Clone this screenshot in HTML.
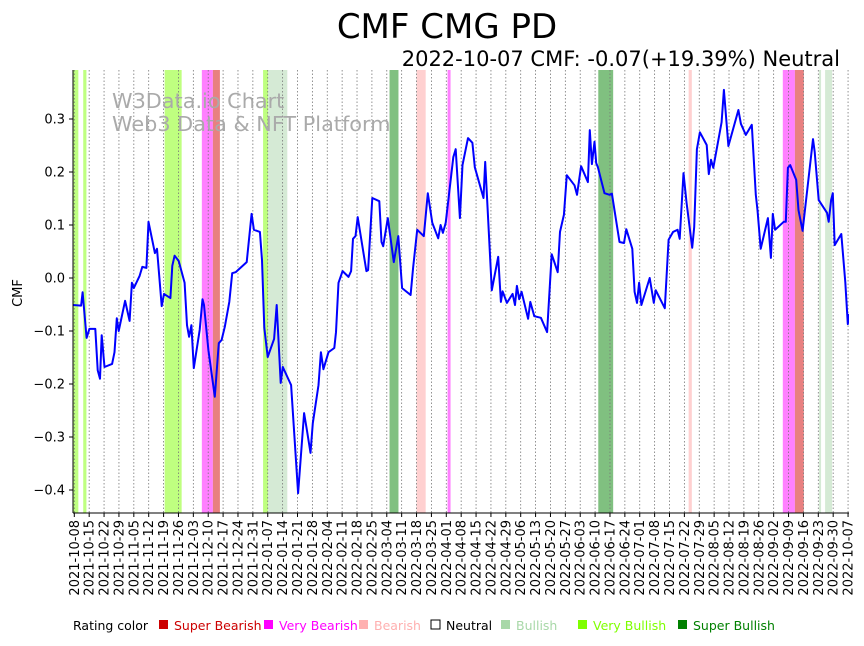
<!DOCTYPE html>
<html><head><meta charset="utf-8"><style>
body{margin:0;background:#fff;width:864px;height:641px;overflow:hidden}
svg{font-family:"DejaVu Sans","Liberation Sans",sans-serif}
</style></head><body>
<svg id="c" width="864" height="641"></svg>
<script>
const dayOffsets=[-0.8,3.2,3.9,5.8,7.1,9.9,11.0,12.1,12.9,14.2,17.8,18.9,20.0,20.9,23.9,26.0,27.1,28.0,30.7,32.0,33.9,34.9,37.9,38.9,41.1,42.2,45.2,46.1,47.2,49.1,51.9,53.0,54.0,55.1,56.2,59.0,60.3,61.0,63.1,66.1,68.0,69.3,70.8,72.9,74.3,75.9,81.1,83.4,84.5,87.3,88.3,89.4,91.0,94.0,95.2,97.1,98.1,102.0,105.3,108.1,109.4,111.1,112.2,114.9,116.0,117.2,119.6,122.3,123.1,124.3,126.2,129.0,130.2,131.1,132.3,133.3,137.4,138.2,140.2,143.5,144.5,145.3,147.5,150.3,152.4,154.2,158.2,159.4,161.3,164.4,166.3,168.4,171.2,172.3,173.4,174.7,178.3,179.4,181.4,182.6,185.2,187.3,188.4,192.5,193.3,196.4,199.4,200.7,201.5,203.5,206.2,207.3,208.2,209.3,210.4,213.5,214.5,216.4,219.5,222.4,224.6,227.4,228.5,230.3,231.7,235.3,236.5,238.4,241.6,242.5,243.5,244.7,245.5,246.3,249.4,251.8,252.9,256.5,258.6,259.7,262.5,263.6,264.7,265.7,266.8,270.7,272.6,273.5,277.8,279.6,281.7,283.8,284.8,286.6,288.0,290.7,291.6,292.9,294.3,297.5,298.5,299.5,300.6,304.5,305.6,307.7,312.4,313.6,315.9,318.7,320.6,321.4,322.9,326.3,327.7,328.6,329.7,333.7,334.7,335.7,336.8,339.6,340.7,342.6,347.5,348.3,350.2,354.1,354.9,356.0,356.8,357.7,360.8,362.7,363.9,364.6];
const cmfValues=[-0.051,-0.052,-0.027,-0.113,-0.096,-0.096,-0.174,-0.19,-0.108,-0.168,-0.162,-0.14,-0.076,-0.1,-0.043,-0.081,-0.009,-0.019,0.004,0.021,0.019,0.106,0.047,0.055,-0.053,-0.03,-0.038,0.023,0.042,0.032,-0.009,-0.089,-0.111,-0.089,-0.17,-0.098,-0.04,-0.051,-0.136,-0.224,-0.123,-0.117,-0.092,-0.045,0.009,0.011,0.03,0.121,0.091,0.087,0.034,-0.094,-0.149,-0.115,-0.051,-0.198,-0.168,-0.202,-0.406,-0.255,-0.287,-0.33,-0.274,-0.202,-0.14,-0.172,-0.14,-0.132,-0.102,-0.009,0.013,0.002,0.013,0.074,0.079,0.115,0.013,0.015,0.151,0.145,0.068,0.06,0.113,0.03,0.079,-0.019,-0.032,0.019,0.091,0.079,0.16,0.104,0.075,0.1,0.085,0.104,0.228,0.243,0.113,0.213,0.264,0.255,0.209,0.151,0.219,-0.023,0.04,-0.045,-0.025,-0.047,-0.03,-0.051,-0.015,-0.04,-0.026,-0.077,-0.045,-0.072,-0.075,-0.102,0.045,0.011,0.087,0.119,0.194,0.175,0.157,0.211,0.181,0.279,0.215,0.257,0.217,0.209,0.16,0.157,0.159,0.068,0.066,0.092,0.055,-0.026,-0.047,-0.009,-0.051,0,-0.047,-0.023,-0.057,0.072,0.087,0.091,0.074,0.198,0.143,0.057,0.096,0.243,0.275,0.251,0.196,0.223,0.208,0.294,0.355,0.249,0.317,0.291,0.27,0.289,0.157,0.128,0.055,0.113,0.038,0.121,0.091,0.106,0.106,0.208,0.213,0.185,0.128,0.089,0.262,0.238,0.147,0.123,0.106,0.147,0.16,0.062,0.083,-0.008,-0.087,-0.068];
const bandStarts=[-0.9,4.2,42.5,60,65.2,88.8,91.2,148.3,161,175.6,246.5,289,333.3,339,350.3,353.2];
const bandEnds=[1.9,5.7,50.5,65.2,68.5,91.2,100.2,152.5,165.3,177,253.5,290.5,339,343.2,351.3,356.5];
const bandTypes=["vbull","vbull","vbull","vbear","sbear","vbull","bull","sbull","bear","vbear","sbull","bear","vbear","sbear","bull","bull"];
const yTicks=[0.3,0.2,0.1,0.0,-0.1,-0.2,-0.3,-0.4];
const yTickLabels=["0.3","0.2","0.1","0.0","−0.1","−0.2","−0.3","−0.4"];

const NS="http://www.w3.org/2000/svg",svg=document.getElementById('c');
const L=73,R=849,T=70,B=513;
const X=d=>74.3+d*14.88/7;
const Y=v=>278-v*530;
const col={vbull:"#bfff80",bull:"#d5ead5",sbull:"#80c080",vbear:"#ff80ff",sbear:"#e88080",bear:"#ffd0d0"};
function mk(t,a,p){const e=document.createElementNS(NS,t);for(const k in a)e.setAttribute(k,a[k]);(p||svg).appendChild(e);return e;}
function txt(s,a){const e=mk('text',a);e.textContent=s;return e;}
const clip=mk('clipPath',{id:'cp'});mk('rect',{x:L,y:T,width:R-L,height:B-T},clip);
for(let i=0;i<bandStarts.length;i++){
 const x1=Math.max(L,X(bandStarts[i])),x2=X(bandEnds[i]);
 const r=mk('rect',{x:x1,y:T,width:x2-x1,height:B-T,fill:col[bandTypes[i]]});
 
 
}
const start=new Date(Date.UTC(2021,9,8));
for(let w=0;w<=52;w++){
 const x=X(w*7);
 const g=mk('line',{x1:x,x2:x,y1:T,y2:B,stroke:"#777","stroke-width":0.8,"stroke-dasharray":"1.5,2"});
 
 
 mk('line',{x1:x,x2:x,y1:B,y2:B+4,stroke:"#000","stroke-width":1});
 const dt=new Date(start.getTime()+w*7*864e5).toISOString().slice(0,10);
 const t=txt(dt,{x:0,y:0,transform:`translate(${x+4.5},${B+7}) rotate(-90)`,"text-anchor":"end","font-size":13,fill:"#000"});
 
 
}
yTicks.forEach((v,i)=>{
 const y=Y(v);
 mk('line',{x1:L-4,x2:L,y1:y,y2:y,stroke:"#000"});
 const t=txt(yTickLabels[i],{x:L-8,y:y+4.5,"text-anchor":"end","font-size":13});
 
 
});
const wm1=txt("W3Data.io Chart",{x:112,y:108,"font-size":20.8,fill:"#aaa"});


const wm2=txt("Web3 Data & NFT Platform",{x:112,y:131,"font-size":20.8,fill:"#aaa"});


const pts=dayOffsets.map((d,i)=>X(d).toFixed(1)+","+Y(cmfValues[i]).toFixed(1)).join(" ");
const line=mk('polyline',{points:pts,fill:"none",stroke:"#0000ff","stroke-width":2,"stroke-linejoin":"round","clip-path":"url(#cp)"});


mk('line',{x1:L,x2:L,y1:T,y2:B,stroke:"#000"});
mk('line',{x1:L,x2:R,y1:B,y2:B,stroke:"#000"});
const ti=txt("CMF CMG PD",{x:447,y:38,"text-anchor":"middle","font-size":34});


const st=txt("2022-10-07 CMF: -0.07(+19.39%) Neutral",{x:840,y:66,"text-anchor":"end","font-size":21});


const yl=txt("CMF",{x:0,y:0,transform:"translate(22,293) rotate(-90)","text-anchor":"middle","font-size":13});


const lg=[["Rating color",null,"#000",73],["Super Bearish","#cc0000","#cc0000",158],["Very Bearish","#ff00ff","#ff00ff",263],["Bearish","#ffb0b0","#ffb0b0",358],["Neutral","#fff","#000",430],["Bullish","#a8d8a8","#a8d8a8",500],["Very Bullish","#7fff00","#7fff00",577],["Super Bullish","#008000","#008000",677]];
lg.forEach(([s,sw,c,x])=>{
 let tx=x;
 if(sw){mk('rect',{x:x+1,y:620,width:9,height:9,fill:sw,stroke:sw==="#fff"?"#000":"none"});tx=x+16;}
 const t=txt(s,{x:tx,y:630,"font-size":12.5,fill:c});
 
 
});
</script>
</body></html>
